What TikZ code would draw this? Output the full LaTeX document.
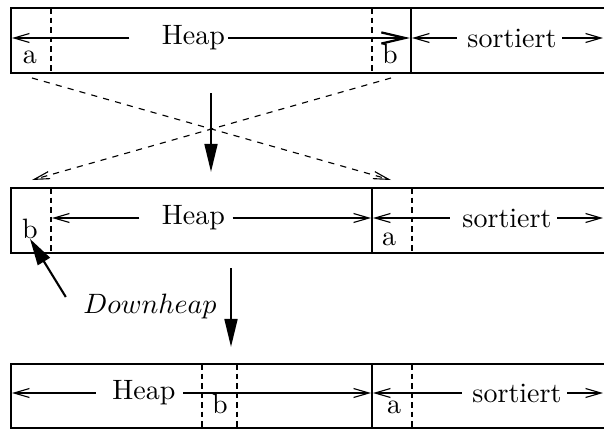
\documentclass[tikz,border=0pt]{standalone}
\usetikzlibrary{arrows.meta}
\tikzset{
 every node/.append style={inner sep=0pt},
 frame/.style={draw,line width=.75pt},
 cut/.style={draw,line width=.4pt,dash pattern=on 2pt off 1.4pt},
 span/.style={draw,line width=.4pt,-{Straight Barb[length=5.5pt,width=3.2pt]}},
 bigspan/.style={draw,line width=.4pt,-{Straight Barb[length=8.5pt,width=4pt,line width=.8pt]}},
 swap/.style={draw,line width=.4pt,dash pattern=on 2.2pt off 2.2pt,-{Straight Barb[length=5.5pt,width=2.6pt]}},
 move/.style={draw,line width=.75pt,-{Triangle[length=10pt,width=4.6pt]}},
 push/.style={draw,line width=.75pt,-{Triangle[length=9.5pt,width=5pt]}},
 letter/.style={anchor=base},
}

\begin{document}
\begin{tikzpicture}[x=.357pt,y=-.357pt]

\useasboundingbox (0,0) rectangle (604,429);
% first row
\draw[frame] (604,8) -- (11,8) -- (11,73) -- (604,73) (411,8) -- (411,73);
\draw[cut] (51,8) -- (51,73) (372,8) -- (372,73);
\coordinate (edgeA) at (12,38); \coordinate (wallA) at (410,38); \coordinate (wallAr) at (412,38); \coordinate (endA) at (603,38);
\node (heapA) at (193.5,38) {Heap};
\node (sortA) at (512,38) {sortiert};
\node[letter] (aA) at (30,63) {a};
\node[letter] (bA) at (390,63) {b};
\draw[span,shorten <=11.4pt] (heapA.west) -- (edgeA);
\draw[bigspan,shorten <=1pt] (heapA.east) -- (wallA);
\draw[span,shorten <=3.6pt] (sortA.west) -- (wallAr);
\draw[span,shorten <=1.8pt] (sortA.east) -- (endA);
% swap of a and b
\coordinate (fromA) at (32,78); \coordinate (toA) at (391,180);
\coordinate (fromB) at (391,78); \coordinate (toB) at (32,180);
\draw[swap] (fromA) -- (toA);
\draw[swap] (fromB) -- (toB);
\coordinate (s1) at (211,93); \coordinate (t1) at (211,172);
\draw[move] (s1) -- (t1);
% second row
\draw[frame] (604,188) -- (11,188) -- (11,253) -- (604,253) (372,188) -- (372,253);
\draw[cut] (51,188) -- (51,253) (412,188) -- (412,253);
\coordinate (edgeB) at (52,218); \coordinate (wallB) at (371,218); \coordinate (wallBr) at (373,218); \coordinate (endB) at (603,218);
\node (heapB) at (193.5,218) {Heap};
\node (sortB) at (507,218) {sortiert};
\node[letter] (bB) at (30,238) {b};
\node[letter] (aB) at (389,245) {a};
\draw[span,shorten <=7.9pt] (heapB.west) -- (edgeB);
\draw[span,shorten <=2.5pt] (heapB.east) -- (wallB);
\draw[span,shorten <=4.3pt] (sortB.west) -- (wallBr);
\draw[span,shorten <=1.8pt] (sortB.east) -- (endB);
\node[anchor=base] (down) at (150,313) {$Downheap$};
\draw[push] ([shift={(-17,4)}]down.north west) -- (bB.south);
\coordinate (s2) at (231,268); \coordinate (t2) at (231,347);
\draw[move] (s2) -- (t2);
% third row
\draw[frame] (604,364) -- (11,364) -- (11,428) -- (604,428) (372,364) -- (372,428);
\draw[cut] (202,364) -- (202,428) (237,364) -- (237,428) (412,364) -- (412,428);
\coordinate (edgeC) at (12,393); \coordinate (wallC) at (371,393); \coordinate (wallCr) at (373,393); \coordinate (endC) at (603,393);
\node (heapC) at (144,393) {Heap};
\node (sortC) at (517,393) {sortiert};
\node[letter] (bC) at (220,413) {b};
\node[letter] (aC) at (394,413) {a};
\draw[span,shorten <=5.7pt] (heapC.west) -- (edgeC);
\draw[span,shorten <=2.5pt] (heapC.east) -- (wallC);
\draw[span,shorten <=3.6pt] (sortC.west) -- (wallCr);
\draw[span,shorten <=1.8pt] (sortC.east) -- (endC);

\end{tikzpicture}
\end{document}
